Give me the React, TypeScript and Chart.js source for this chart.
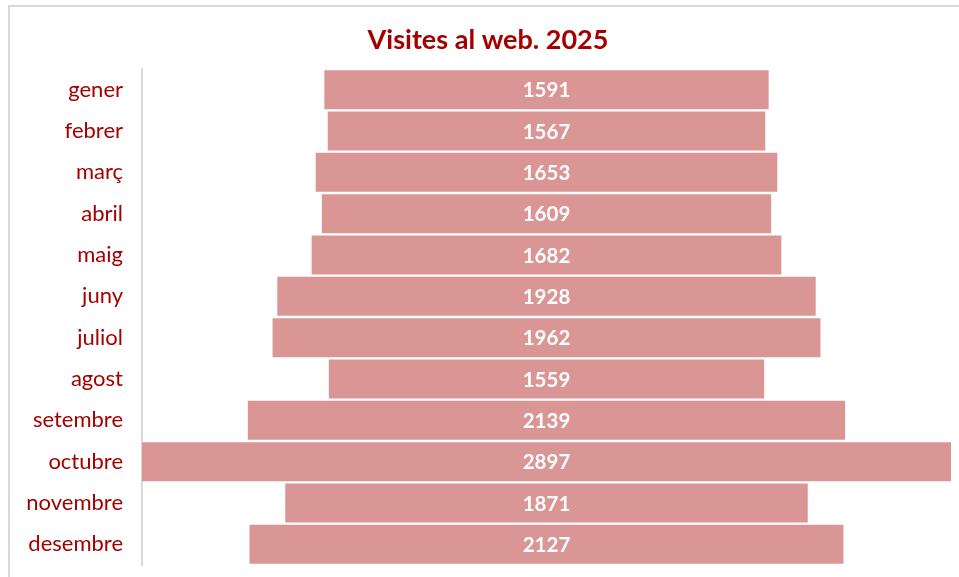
import React, { useEffect, useRef } from "react";
import { Chart, registerables } from "chart.js";

Chart.register(...registerables);

const months = ["gener", "febrer", "març", "abril", "maig", "juny", "juliol", "agost", "setembre", "octubre", "novembre", "desembre"];
const visits = [1591, 1567, 1653, 1609, 1682, 1928, 1962, 1559, 2139, 2897, 1871, 2127];
const titleText = "Visites al web. 2025";

const RED = "#a50000";
const BAR = "#d99694";
const FONT = "Lato, 'Open Sans', sans-serif";

export default function App() {
  const ref = useRef<HTMLCanvasElement>(null);
  useEffect(() => {
    if (!ref.current) return;
    const maxV = Math.max(...visits);
    const labelPlugin = {
      id: "centerLabels",
      afterDatasetsDraw(chart: any) {
        const ctx = chart.ctx;
        const meta = chart.getDatasetMeta(0);
        ctx.save();
        ctx.fillStyle = "#ffffff";
        ctx.font = `bold 20.5px ${FONT}`;
        ctx.textAlign = "center";
        ctx.textBaseline = "middle";
        meta.data.forEach((el: any, i: number) => {
          const x = chart.scales.x.getPixelForValue(0);
          ctx.fillText(String(visits[i]), x, el.y + 1);
        });
        ctx.restore();
      },
      afterDraw(chart: any) {
        const ctx = chart.ctx;
        ctx.save();
        ctx.fillStyle = RED;
        ctx.font = `bold 27px ${FONT}`;
        ctx.textAlign = "center";
        ctx.textBaseline = "middle";
        ctx.fillText(titleText, 488, 40);
        ctx.restore();
      },
    };
    const chart = new Chart(ref.current, {
      type: "bar",
      data: {
        labels: months,
        datasets: [
          {
            data: visits.map((v) => [-v / 2, v / 2]) as any,
            backgroundColor: BAR,
            borderWidth: 0,
            barPercentage: 0.945,
            categoryPercentage: 1,
          },
        ],
      },
      options: {
        indexAxis: "y",
        animation: false,
        responsive: false,
        maintainAspectRatio: false,
        layout: { padding: { left: 0, right: 8, top: 69, bottom: 12 } },
        plugins: { legend: { display: false }, tooltip: { enabled: false }, title: { display: false } },
        scales: {
          x: { display: false, min: -maxV / 2, max: maxV / 2 },
          y: {
            afterFit(scale: any) {
              scale.width = 142;
              scale.paddingTop = 0;
              scale.paddingBottom = 0;
            },
            grid: { display: false, drawTicks: false },
            border: { display: true, color: "#d9d9d9", width: 2 },
            ticks: { color: RED, font: { family: FONT, size: 22 }, padding: 19 },
          },
        },
      },
      plugins: [labelPlugin],
    });
    return () => chart.destroy();
  }, []);
  return (
    <div>
      <div
        style={{
          position: "fixed",
          left: 8,
          top: 5,
          width: 1000,
          height: 700,
          border: "2px solid #d9d9d9",
          boxSizing: "border-box",
        }}
      />
      <canvas ref={ref} width={959} height={577} style={{ position: "fixed", left: 0, top: 0, width: 959, height: 577 }} />
    </div>
  );
}
